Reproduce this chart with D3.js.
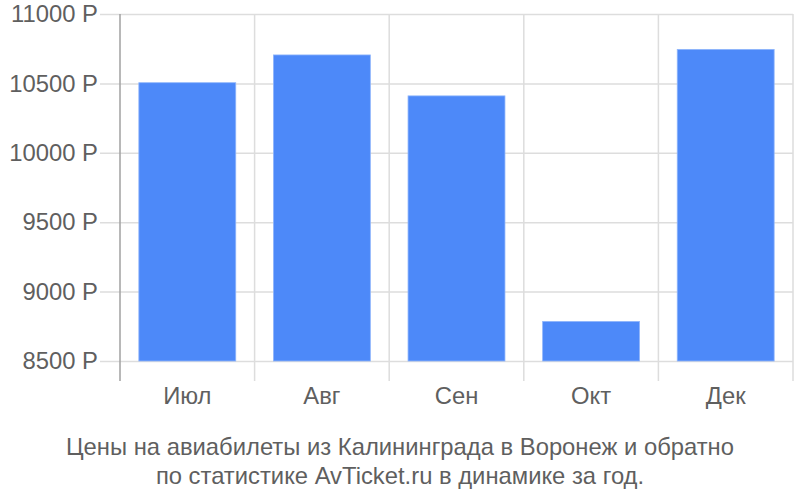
<!DOCTYPE html>
<html lang="ru">
<head>
    <meta charset="UTF-8">
    <title>Цены на авиабилеты</title>
    <script src="https://d3js.org/d3.v7.min.js"></script>
    <style>
        body { margin: 0; background: #fff; }
        text { font-family: "Liberation Sans", Arial, sans-serif; fill: #5f5f5f; }
    </style>
</head>
<body>
    <div id="chart"></div>
    <script>
        // Data
        const months = ["Июл", "Авг", "Сен", "Окт", "Дек"];
        const prices = [10505, 10705, 10410, 8785, 10745];
        const yTicks = [8500, 9000, 9500, 10000, 10500, 11000];
        const titleLines = [
            "Цены на авиабилеты из Калининграда в Воронеж и обратно",
            "по статистике AvTicket.ru в динамике за год."
        ];

        const W = 800, H = 500;
        const fs = 23.8;
        const margin = { top: 14, right: 7, bottom: 139, left: 120 };
        const width = W - margin.left - margin.right,
              height = H - margin.top - margin.bottom;

        const svg = d3.select("#chart").append("svg")
            .attr("width", W)
            .attr("height", H);

        const g = svg.append("g")
            .attr("transform", `translate(${margin.left},${margin.top})`);

        const x = d3.scaleBand().domain(months).range([0, width]).paddingInner(0).paddingOuter(0);
        const y = d3.scaleLinear().domain([8500, 11000]).range([height, 0]);

        // horizontal grid + tick labels
        g.append("g")
            .call(d3.axisLeft(y).tickValues(yTicks).tickSize(-width - 20).tickFormat(d => d + " Р").tickPadding(2))
            .attr("transform", "translate(-20,0)")
            .call(a => a.select(".domain").remove())
            .call(a => a.selectAll("line").attr("stroke", "#dddddd").attr("stroke-width", 1.5))
            .call(a => a.selectAll("text").attr("font-size", fs).attr("fill", "#5f5f5f"));

        // vertical grid at band edges
        const edges = months.map(m => x(m)).concat([width]);
        g.append("g").selectAll("line")
            .data(edges.slice(1))
            .join("line")
            .attr("x1", d => d).attr("x2", d => d)
            .attr("y1", 0).attr("y2", height + 20)
            .attr("stroke", "#dddddd")
            .attr("stroke-width", 1.5);

        // y axis line
        g.append("line")
            .attr("x1", 0).attr("x2", 0)
            .attr("y1", 0).attr("y2", height + 20)
            .attr("stroke", "#a0a0a0")
            .attr("stroke-width", 1.5);

        // bars
        const bw = x.bandwidth() * 0.72;
        g.append("g").selectAll("rect")
            .data(prices)
            .join("rect")
            .attr("x", (d, i) => x(months[i]) + (x.bandwidth() - bw) / 2)
            .attr("y", d => y(d))
            .attr("width", bw)
            .attr("height", d => y(8500) - y(d))
            .attr("fill", "#4d89f9")
            .attr("stroke", "#8fb5fb")
            .attr("stroke-width", 0.8);

        // x labels
        g.append("g")
            .attr("transform", `translate(0,${height})`)
            .call(d3.axisBottom(x).tickSize(0).tickPadding(26))
            .call(a => a.select(".domain").remove())
            .call(a => a.selectAll("text").attr("font-size", fs).attr("fill", "#5f5f5f"));

        // title
        svg.append("g").selectAll("text")
            .data(titleLines)
            .join("text")
            .attr("x", W / 2)
            .attr("y", (d, i) => 455 + i * 29)
            .attr("text-anchor", "middle")
            .attr("font-size", fs)
            .attr("fill", "#5f5f5f")
            .text(d => d);
    </script>
</body>
</html>
